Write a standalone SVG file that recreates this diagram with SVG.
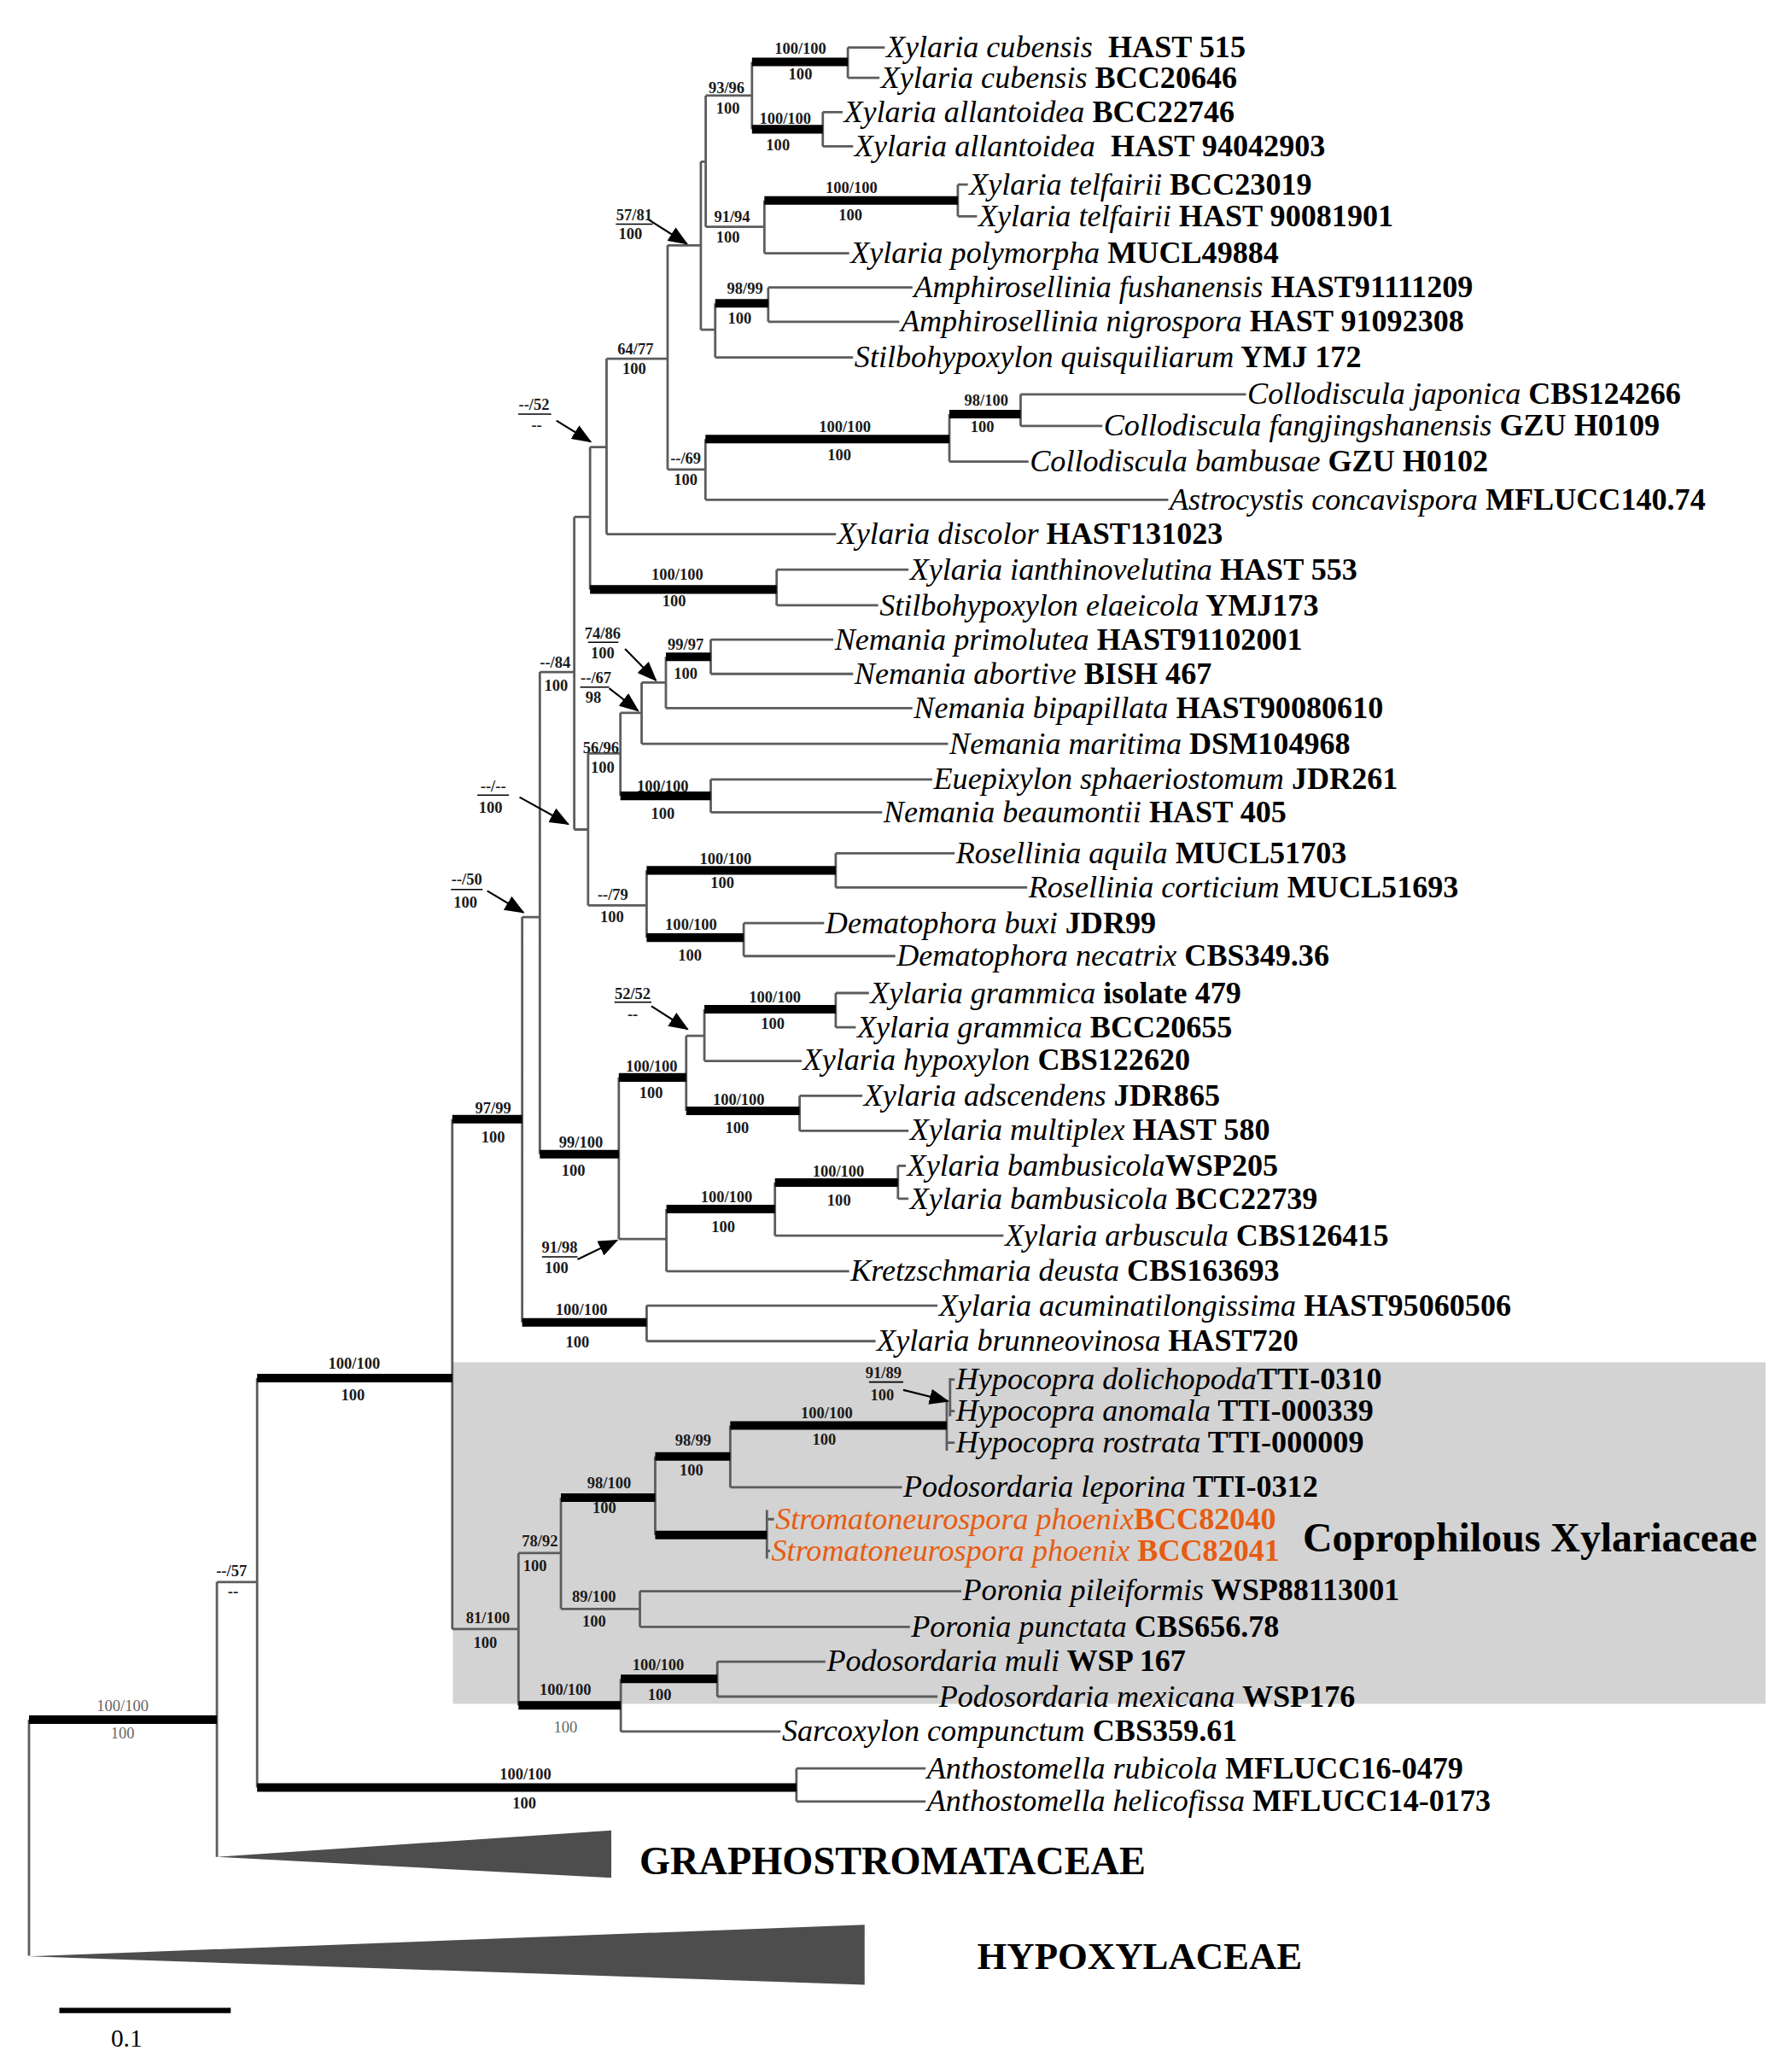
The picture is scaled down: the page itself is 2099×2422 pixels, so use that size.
<svg xmlns="http://www.w3.org/2000/svg" width="2099" height="2422" viewBox="0 0 2099 2422">
<style>
.thin{fill:none;stroke:#5c5c5c;stroke-width:1.8}
.thick{fill:none;stroke:#000;stroke-width:6.5}
.tx{font-family:"Liberation Serif","Times New Roman",serif;font-size:23.4px;font-weight:bold;fill:#000}
.or{fill:#E65C12}
.it{font-style:italic;font-weight:normal}
.sup{font-family:"Liberation Serif","Times New Roman",serif;font-size:12px;font-weight:bold;text-anchor:middle;fill:#1a1a1a}
.supg{font-family:"Liberation Serif","Times New Roman",serif;font-size:12px;text-anchor:middle;fill:#666}
.arr{stroke:#000;stroke-width:1.4;fill:none;marker-end:url(#ah)}
.ul{stroke:#000;stroke-width:1}
.fam{font-family:"Liberation Serif","Times New Roman",serif;font-weight:bold;fill:#000}
.tri{fill:#4d4d4d}
</style>
<defs>
<marker id="ah" markerUnits="userSpaceOnUse" markerWidth="15" markerHeight="12" refX="14" refY="6" orient="auto">
<path d="M0,0 L15,6 L0,12 z" fill="#000"/>
</marker>
</defs>
<rect width="2099" height="2422" fill="#fff"/>
<g transform="scale(1.5445)">
<rect id="coprophilous-box" x="343.5" y="1033" width="995.5" height="259" fill="#d3d3d3"/>
<g id="connectors">
<path class="thin" d="M22 1304V1483 M164.5 1199.6V1408 M164.5 1199.6H195 M195 1045V1355.5 M604 1341V1366 M604 1341H702 M604 1366H702 M343 848.7V1235.3 M343 1235.3H393.2 M396 695.4V1002.7 M396 695.4H409.4 M490.4 990V1017 M490.4 990H711 M490.4 1017H664 M409.4 509.6V875.2 M409.4 509.6H435.5 M435.5 392V629 M435.5 392H447.5 M435.5 629H446 M447.5 339V447 M447.5 339H460 M589 432V459 M589 432H689 M589 459H666 M460 272V405 M460 272H506.3 M460 405H634 M506.3 186V356 M506.3 186H531.5 M506.3 356H535 M531.5 122.6V250 M531.5 122.6H535.2 M531.5 250H542.4 M535.2 72.5V172 M535.2 72.5H570.3 M535.2 172H579.7 M570.3 47V98 M643 36V59 M643 36H671 M643 59H667 M624 85V111 M624 85H639 M624 111H647 M579.7 152V192 M579.7 192H644 M726.4 140V164 M726.4 140H734 M726.4 164H741 M542.4 230V271 M542.4 271H647 M582.6 218V244 M582.6 218H692 M582.6 244H682 M535 333V379 M535 379H886 M720 314V350 M720 350H780 M774 299V323 M774 299H945 M774 323H836 M446 571.3V686.6 M446 571.3H470.5 M446 686.6H490.4 M470.5 540.5V603.5 M470.5 540.5H486.6 M539 591V616 M539 591H707 M539 616H669 M486.6 517.6V564 M486.6 517.6H505 M486.6 564H719 M505 498V537 M505 537H692 M539 485V511 M539 485H632 M539 511H647 M490.4 660V711 M633.8 647V673 M633.8 647H724 M633.8 673H779 M564 700V725 M564 700H625 M564 725H679 M469.3 817V939.6 M469.3 939.6H505.4 M520.4 785.5V842.4 M520.4 785.5H534.2 M534.2 765.3V804.5 M534.2 804.5H608 M633.8 753V779 M633.8 753H659 M633.8 779H649 M606.4 831V857.5 M606.4 831H654 M606.4 857.5H689 M505.4 916.8V964 M505.4 964H644 M587.7 896.7V937 M587.7 937H761 M681 884V909 M681 884H687 M681 909H689 M393.2 1177.7V1293.2 M393.2 1177.7H425.4 M425.4 1135.7V1220 M425.4 1220H485.3 M496.9 1104.4V1164 M553.8 1081V1127.8 M553.8 1127.8H684 M718 1062V1100 M720.5 1045V1074 M718 1094H724 M720.5 1046H724 M720.5 1070H724 M581.6 1145V1182 M581.6 1152H587 M581.6 1176H584 M485.3 1206.6V1233.6 M485.3 1206.6H729 M485.3 1233.6H690 M470.8 1273V1313 M470.8 1313H592 M544 1260V1286.5 M544 1260H626 M544 1286.5H711"/>
<path class="thick" d="M22 1304H164.5 M195 1045H343 M195 1355.5H604 M343 848.7H396 M396 1002.7H490.4 M409.4 875.2H469.3 M447.5 447H589 M570.3 47H643 M570.3 98H624 M579.7 152H726.4 M542.4 230H582.6 M535 333H720 M720 314H774 M470.5 603.5H539 M505 498H539 M490.4 660H633.8 M490.4 711H564 M469.3 817H520.4 M520.4 842.4H606.4 M534.2 765.3H633.8 M505.4 916.8H587.7 M587.7 896.7H681 M393.2 1293.2H470.8 M425.4 1135.7H496.9 M496.9 1104.4H553.8 M496.9 1164H581.6 M553.8 1081H718 M470.8 1273H544"/>
<line class="arr" x1="491" y1="166" x2="521" y2="185"/>
<line class="arr" x1="422" y1="319" x2="448" y2="335"/>
<line class="arr" x1="474" y1="492" x2="497.5" y2="516"/>
<line class="arr" x1="462" y1="522" x2="484" y2="539"/>
<line class="arr" x1="394" y1="604.5" x2="431" y2="625"/>
<line class="arr" x1="369.5" y1="675.5" x2="397" y2="692"/>
<line class="arr" x1="494" y1="763" x2="521.5" y2="780.5"/>
<line class="arr" x1="438" y1="955" x2="468" y2="940.5"/>
<line class="arr" x1="685" y1="1054" x2="719" y2="1062.5"/>
</g>
<g id="collapsed-clades">
<g id="graphostromataceae"><polygon class="tri" points="164.5,1408 463.6,1388 463.6,1424"/><text class="fam" x="485" y="1421" font-size="30">GRAPHOSTROMATACEAE</text></g>
<g id="hypoxylaceae"><polygon class="tri" points="22,1483.5 655.7,1459.5 655.7,1505"/><text class="fam" x="741" y="1493" font-size="29">HYPOXYLACEAE</text></g>
</g>
<g id="clade-label"><text class="fam" x="988" y="1176.5" font-size="31">Coprophilous Xylariaceae</text></g>
<g id="support-values">
<text class="supg" x="93" y="1297.5">100/100</text><text class="supg" x="93" y="1318.5">100</text>
<text class="sup" x="175.6" y="1195">--/57</text><text class="sup" x="176.7" y="1211">--</text>
<text class="sup" x="268.6" y="1038">100/100</text><text class="sup" x="267.7" y="1062">100</text>
<text class="sup" x="398.5" y="1349">100/100</text><text class="sup" x="397.7" y="1371">100</text>
<text class="sup" x="374" y="844">97/99</text><text class="sup" x="374" y="866">100</text>
<text class="sup" x="370" y="1231">81/100</text><text class="sup" x="368" y="1249.5">100</text>
<text class="sup" x="409.4" y="1172.5">78/92</text><text class="sup" x="405.7" y="1191.5">100</text>
<text class="sup" x="462" y="1128.5">98/100</text><text class="sup" x="458.4" y="1147.5">100</text>
<text class="sup" x="525.7" y="1096">98/99</text><text class="sup" x="524.3" y="1119">100</text>
<text class="sup" x="627" y="1075.5">100/100</text><text class="sup" x="625" y="1095.5">100</text>
<text class="sup" x="450.5" y="1214.5">89/100</text><text class="sup" x="450.5" y="1233.5">100</text>
<text class="sup" x="428.8" y="1285.5">100/100</text><text class="supg" x="428.8" y="1313.5" font-size="14">100</text>
<text class="sup" x="499.2" y="1266.5">100/100</text><text class="sup" x="500.3" y="1289">100</text>
<text class="sup" x="441" y="997">100/100</text><text class="sup" x="438" y="1022">100</text>
<text class="sup" x="440.6" y="870">99/100</text><text class="sup" x="434.9" y="891.5">100</text>
<text class="sup" x="494.2" y="812.5">100/100</text><text class="sup" x="493.7" y="832.5">100</text>
<text class="sup" x="587.7" y="760">100/100</text><text class="sup" x="586" y="780">100</text>
<text class="sup" x="560.2" y="837.5">100/100</text><text class="sup" x="559" y="859.5">100</text>
<text class="sup" x="551" y="911.5">100/100</text><text class="sup" x="548.5" y="934">100</text>
<text class="sup" x="635.8" y="892.5">100/100</text><text class="sup" x="636.3" y="914">100</text>
<text class="sup" x="464.8" y="682.5">--/79</text><text class="sup" x="464.2" y="699.5">100</text>
<text class="sup" x="550.3" y="655">100/100</text><text class="sup" x="547.8" y="673.5">100</text>
<text class="sup" x="524.1" y="705">100/100</text><text class="sup" x="523.3" y="728.5">100</text>
<text class="sup" x="455.7" y="571">56/96</text><text class="sup" x="457" y="586">100</text>
<text class="sup" x="502.6" y="600">100/100</text><text class="sup" x="502.6" y="621">100</text>
<text class="sup" x="520" y="493">99/97</text><text class="sup" x="520" y="515">100</text>
<text class="sup" x="421" y="506">--/84</text><text class="sup" x="421.7" y="524">100</text>
<text class="sup" x="513.7" y="439.5">100/100</text><text class="sup" x="511.2" y="460">100</text>
<text class="sup" x="520" y="351.5">--/69</text><text class="sup" x="520" y="368">100</text>
<text class="sup" x="640.7" y="327.5">100/100</text><text class="sup" x="636.5" y="349">100</text>
<text class="sup" x="748" y="307.5">98/100</text><text class="sup" x="745" y="327.5">100</text>
<text class="sup" x="482" y="269">64/77</text><text class="sup" x="481" y="283.5">100</text>
<text class="sup" x="565" y="223">98/99</text><text class="sup" x="561" y="245.5">100</text>
<text class="sup" x="555.2" y="168.5">91/94</text><text class="sup" x="552" y="184">100</text>
<text class="sup" x="645.8" y="146.5">100/100</text><text class="sup" x="645" y="167">100</text>
<text class="sup" x="595.5" y="94">100/100</text><text class="sup" x="590" y="114">100</text>
<text class="sup" x="551" y="70.5">93/96</text><text class="sup" x="552" y="86">100</text>
<text class="sup" x="607" y="40.5">100/100</text><text class="sup" x="607" y="60.5">100</text>
<text class="sup" x="481" y="167">57/81</text><line class="ul" x1="467" y1="170" x2="495" y2="170"/><text class="sup" x="478" y="181">100</text>
<text class="sup" x="405" y="311">--/52</text><line class="ul" x1="393" y1="314" x2="418" y2="314"/><text class="sup" x="407" y="326">--</text>
<text class="sup" x="457" y="484">74/86</text><line class="ul" x1="446" y1="487" x2="469" y2="487"/><text class="sup" x="457" y="499">100</text>
<text class="sup" x="452" y="518">--/67</text><line class="ul" x1="440" y1="521" x2="462" y2="521"/><text class="sup" x="450" y="533">98</text>
<text class="sup" x="374" y="600">--/--</text><line class="ul" x1="362" y1="603" x2="386" y2="603"/><text class="sup" x="372" y="616.5">100</text>
<text class="sup" x="354" y="671">--/50</text><line class="ul" x1="342" y1="674.5" x2="366" y2="674.5"/><text class="sup" x="353" y="688">100</text>
<text class="sup" x="479.8" y="757.5">52/52</text><line class="ul" x1="466" y1="760" x2="494" y2="760"/><text class="sup" x="479.8" y="773">--</text>
<text class="sup" x="424.4" y="949.5">91/98</text><line class="ul" x1="411" y1="953" x2="438" y2="953"/><text class="sup" x="422" y="965.5">100</text>
<text class="sup" x="670" y="1045">91/89</text><line class="ul" x1="659" y1="1048" x2="685" y2="1048"/><text class="sup" x="669" y="1062">100</text>
</g>
<g id="taxa">
<g id="t01"><text class="tx" x="672" y="43.5"><tspan class="it">Xylaria cubensis</tspan><tspan dx="6"> HAST 515</tspan></text></g>
<g id="t02"><text class="tx" x="668" y="66.5"><tspan class="it">Xylaria cubensis</tspan> BCC20646</text></g>
<g id="t03"><text class="tx" x="640" y="92.5"><tspan class="it">Xylaria allantoidea</tspan> BCC22746</text></g>
<g id="t04"><text class="tx" x="648" y="118.5"><tspan class="it">Xylaria allantoidea</tspan><tspan dx="6"> HAST 94042903</tspan></text></g>
<g id="t05"><text class="tx" x="735" y="147.5"><tspan class="it">Xylaria telfairii</tspan> BCC23019</text></g>
<g id="t06"><text class="tx" x="742" y="171.5"><tspan class="it">Xylaria telfairii</tspan> HAST 90081901</text></g>
<g id="t07"><text class="tx" x="645" y="199.5"><tspan class="it">Xylaria polymorpha</tspan> MUCL49884</text></g>
<g id="t08"><text class="tx" x="693" y="225.5"><tspan class="it">Amphirosellinia fushanensis</tspan> HAST91111209</text></g>
<g id="t09"><text class="tx" x="683" y="251.5"><tspan class="it">Amphirosellinia nigrospora</tspan> HAST 91092308</text></g>
<g id="t10"><text class="tx" x="648" y="278.5"><tspan class="it">Stilbohypoxylon quisquiliarum</tspan> YMJ 172</text></g>
<g id="t11"><text class="tx" x="946" y="306.5"><tspan class="it">Collodiscula japonica</tspan> CBS124266</text></g>
<g id="t12"><text class="tx" x="837" y="330.5"><tspan class="it">Collodiscula fangjingshanensis</tspan> GZU H0109</text></g>
<g id="t13"><text class="tx" x="781" y="357.5"><tspan class="it">Collodiscula bambusae</tspan> GZU H0102</text></g>
<g id="t14"><text class="tx" x="887" y="386.5"><tspan class="it">Astrocystis concavispora</tspan> MFLUCC140.74</text></g>
<g id="t15"><text class="tx" x="635" y="412.5"><tspan class="it">Xylaria discolor</tspan> HAST131023</text></g>
<g id="t16"><text class="tx" x="690" y="439.5"><tspan class="it">Xylaria ianthinovelutina</tspan> HAST 553</text></g>
<g id="t17"><text class="tx" x="667" y="466.5"><tspan class="it">Stilbohypoxylon elaeicola</tspan> YMJ173</text></g>
<g id="t18"><text class="tx" x="633" y="492.5"><tspan class="it">Nemania primolutea</tspan> HAST91102001</text></g>
<g id="t19"><text class="tx" x="648" y="518.5"><tspan class="it">Nemania abortive</tspan> BISH 467</text></g>
<g id="t20"><text class="tx" x="693" y="544.5"><tspan class="it">Nemania bipapillata</tspan> HAST90080610</text></g>
<g id="t21"><text class="tx" x="720" y="571.5"><tspan class="it">Nemania maritima</tspan> DSM104968</text></g>
<g id="t22"><text class="tx" x="708" y="598.5"><tspan class="it">Euepixylon sphaeriostomum</tspan> JDR261</text></g>
<g id="t23"><text class="tx" x="670" y="623.5"><tspan class="it">Nemania beaumontii</tspan> HAST 405</text></g>
<g id="t24"><text class="tx" x="725" y="654.5"><tspan class="it">Rosellinia aquila</tspan> MUCL51703</text></g>
<g id="t25"><text class="tx" x="780" y="680.5"><tspan class="it">Rosellinia corticium</tspan> MUCL51693</text></g>
<g id="t26"><text class="tx" x="626" y="707.5"><tspan class="it">Dematophora buxi</tspan> JDR99</text></g>
<g id="t27"><text class="tx" x="680" y="732.5"><tspan class="it">Dematophora necatrix</tspan> CBS349.36</text></g>
<g id="t28"><text class="tx" x="660" y="760.5"><tspan class="it">Xylaria grammica</tspan> isolate 479</text></g>
<g id="t29"><text class="tx" x="650" y="786.5"><tspan class="it">Xylaria grammica</tspan> BCC20655</text></g>
<g id="t30"><text class="tx" x="609" y="811.5"><tspan class="it">Xylaria hypoxylon</tspan> CBS122620</text></g>
<g id="t31"><text class="tx" x="655" y="838.5"><tspan class="it">Xylaria adscendens</tspan> JDR865</text></g>
<g id="t32"><text class="tx" x="690" y="864.5"><tspan class="it">Xylaria multiplex</tspan> HAST 580</text></g>
<g id="t33"><text class="tx" x="688" y="891.5"><tspan class="it">Xylaria bambusicola</tspan>WSP205</text></g>
<g id="t34"><text class="tx" x="690" y="916.5"><tspan class="it">Xylaria bambusicola</tspan> BCC22739</text></g>
<g id="t35"><text class="tx" x="762" y="944.5"><tspan class="it">Xylaria arbuscula</tspan> CBS126415</text></g>
<g id="t36"><text class="tx" x="645" y="971.5"><tspan class="it">Kretzschmaria deusta</tspan> CBS163693</text></g>
<g id="t37"><text class="tx" x="712" y="997.5"><tspan class="it">Xylaria acuminatilongissima</tspan> HAST95060506</text></g>
<g id="t38"><text class="tx" x="665" y="1024.5"><tspan class="it">Xylaria brunneovinosa</tspan> HAST720</text></g>
<g id="t39"><text class="tx" x="725" y="1053.5"><tspan class="it">Hypocopra dolichopoda</tspan>TTI-0310</text></g>
<g id="t40"><text class="tx" x="725" y="1077.5"><tspan class="it">Hypocopra anomala</tspan> TTI-000339</text></g>
<g id="t41"><text class="tx" x="725" y="1101.5"><tspan class="it">Hypocopra rostrata</tspan> TTI-000009</text></g>
<g id="t42"><text class="tx" x="685" y="1135"><tspan class="it">Podosordaria leporina</tspan> TTI-0312</text></g>
<g id="t43"><text class="tx or" x="588" y="1159.5"><tspan class="it">Stromatoneurospora phoenix</tspan>BCC82040</text></g>
<g id="t44"><text class="tx or" x="585" y="1183.5"><tspan class="it">Stromatoneurospora phoenix</tspan> BCC82041</text></g>
<g id="t45"><text class="tx" x="730" y="1213.5"><tspan class="it">Poronia pileiformis</tspan> WSP88113001</text></g>
<g id="t46"><text class="tx" x="691" y="1241"><tspan class="it">Poronia punctata</tspan> CBS656.78</text></g>
<g id="t47"><text class="tx" x="627" y="1267"><tspan class="it">Podosordaria muli</tspan> WSP 167</text></g>
<g id="t48"><text class="tx" x="712" y="1294"><tspan class="it">Podosordaria mexicana</tspan> WSP176</text></g>
<g id="t49"><text class="tx" x="593" y="1320"><tspan class="it">Sarcoxylon compunctum</tspan> CBS359.61</text></g>
<g id="t50"><text class="tx" x="703" y="1348.5"><tspan class="it">Anthostomella rubicola</tspan> MFLUCC16-0479</text></g>
<g id="t51"><text class="tx" x="703" y="1373.5"><tspan class="it">Anthostomella helicofissa</tspan> MFLUCC14-0173</text></g>
</g>
<g id="scale-bar">
<line x1="45" y1="1524.5" x2="175" y2="1524.5" stroke="#000" stroke-width="4"/>
<text x="96" y="1552" font-family="'Liberation Serif',serif" font-size="19" text-anchor="middle">0.1</text>
</g>
</g>
</svg>
